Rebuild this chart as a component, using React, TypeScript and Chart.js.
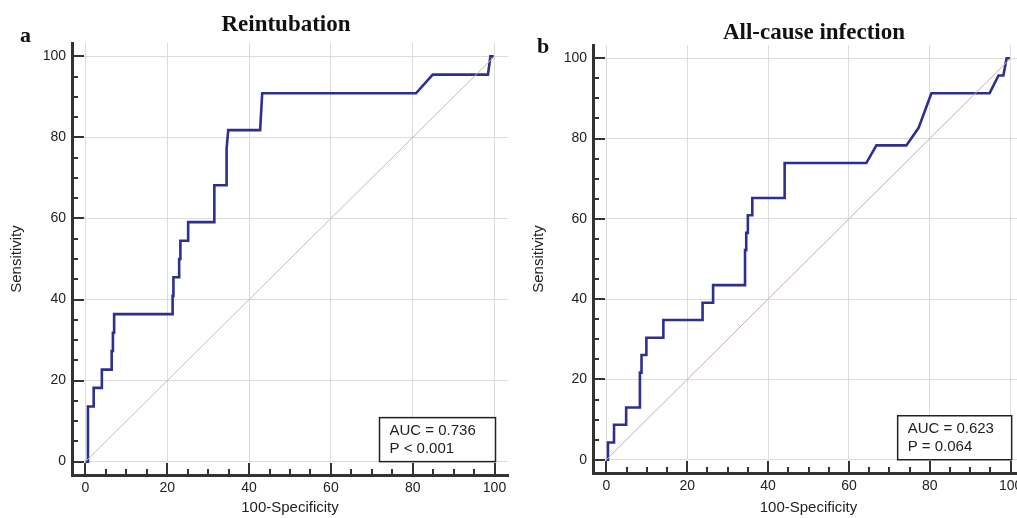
import React, { useEffect, useRef } from "react";
import { Chart, registerables } from "chart.js";

Chart.register(...registerables);

// ---- data ----
const tickValues = [0, 5, 10, 15, 20, 25, 30, 35, 40, 45, 50, 55, 60, 65, 70, 75, 80, 85, 90, 95, 100];
const majorTicks = [0, 20, 40, 60, 80, 100];

const reintFpr = [0, 0.6, 0.6, 2.0, 2.0, 4.0, 4.0, 6.4, 6.4, 6.7, 6.7, 7.0, 7.0, 21.3, 21.3, 21.5, 21.5, 22.9, 22.9, 23.2, 23.2, 25.1, 25.1, 31.5, 31.5, 34.5, 34.5, 34.9, 42.7, 43.2, 80.8, 84.9, 98.4, 99.0, 99.8];
const reintSens = [0, 0, 13.6, 13.6, 18.2, 18.2, 22.7, 22.7, 27.3, 27.3, 31.8, 31.8, 36.4, 36.4, 40.9, 40.9, 45.5, 45.5, 50.0, 50.0, 54.5, 54.5, 59.1, 59.1, 68.2, 68.2, 77.3, 81.8, 81.8, 90.9, 90.9, 95.5, 95.5, 100, 100];

const infFpr = [0, 0.4, 0.4, 1.9, 1.9, 4.9, 4.9, 8.3, 8.3, 8.7, 8.7, 9.9, 9.9, 14.1, 14.1, 23.8, 23.8, 26.4, 26.4, 34.3, 34.3, 34.6, 34.6, 35.0, 35.0, 36.1, 36.1, 44.1, 44.1, 64.3, 66.8, 74.2, 77.2, 80.4, 94.8, 97.0, 98.2, 99.0, 99.8];
const infSens = [0, 0, 4.3, 4.3, 8.7, 8.7, 13.0, 13.0, 21.7, 21.7, 26.1, 26.1, 30.4, 30.4, 34.8, 34.8, 39.1, 39.1, 43.5, 43.5, 52.2, 52.2, 56.5, 56.5, 60.9, 60.9, 65.2, 65.2, 73.9, 73.9, 78.3, 78.3, 82.6, 91.3, 91.3, 95.7, 95.7, 100, 100];

const chanceX = [0, 100];
const chanceY = [0, 100];

const panelTitles = ["Reintubation", "All-cause infection"];
const panelLetters = ["a", "b"];
const aucLines = [
  ["AUC = 0.736", "P < 0.001"],
  ["AUC = 0.623", "P = 0.064"],
];
const xTitle = "100-Specificity";
const yTitle = "Sensitivity";

const zip = (xs: number[], ys: number[]) => xs.map((x, i) => ({ x, y: ys[i] }));

const decorPlugin = {
  id: "decor",
  afterDraw(chart: any, _args: any, opts: any) {
    const { ctx, chartArea, scales } = chart;
    const xs = scales.x;
    const ys = scales.y;
    ctx.save();
    // inner tick marks
    ctx.strokeStyle = "#333";
    ctx.lineWidth = 2;
    tickValues.forEach((v) => {
      const len = majorTicks.includes(v) ? 12 : 6;
      const px = Math.round(xs.getPixelForValue(v));
      ctx.beginPath();
      ctx.moveTo(px, chartArea.bottom);
      ctx.lineTo(px, chartArea.bottom - len);
      ctx.stroke();
      const py = Math.round(ys.getPixelForValue(v));
      ctx.beginPath();
      ctx.moveTo(chartArea.left, py);
      ctx.lineTo(chartArea.left + len, py);
      ctx.stroke();
    });
    // AUC box
    const right = xs.getPixelForValue(100) + 1;
    const bottom = ys.getPixelForValue(0);
    const w = opts.boxW;
    const h = 44;
    ctx.fillStyle = "#fff";
    ctx.fillRect(right - w, bottom - h, w, h);
    ctx.strokeStyle = "#222";
    ctx.lineWidth = 1.5;
    ctx.strokeRect(right - w, bottom - h, w, h);
    ctx.fillStyle = "#222";
    ctx.font = "15px 'Liberation Sans', Arial, sans-serif";
    ctx.textBaseline = "middle";
    ctx.textAlign = "left";
    ctx.fillText(opts.auc[0], right - w + 10, bottom - h + 13.5);
    ctx.fillText(opts.auc[1], right - w + 10, bottom - h + 31);
    // panel title and letter
    ctx.fillStyle = "#111";
    ctx.textBaseline = "alphabetic";
    ctx.textAlign = "center";
    ctx.font = "bold 23px 'Liberation Serif', 'Times New Roman', serif";
    ctx.fillText(opts.title, opts.titleX, opts.titleY);
    ctx.textAlign = "left";
    ctx.font = "bold 22px 'Liberation Serif', 'Times New Roman', serif";
    ctx.fillText(opts.letter, opts.letterX, opts.letterY);
    ctx.restore();
  },
};

type PanelCfg = {
  idx: number;
  fpr: number[];
  sens: number[];
  diagColor: string;
  padLeft: number;
  padTop: number;
  padRight: number;
  yWidth: number;
  xHeight: number;
  yTitlePad: number;
  titleX: number;
  titleY: number;
  letterX: number;
  letterY: number;
  boxW: number;
};

function makeChart(canvas: HTMLCanvasElement, c: PanelCfg) {
  const tickFont = { family: "'Liberation Sans', Arial, sans-serif", size: 14 };
  const titleFont = { family: "'Liberation Sans', Arial, sans-serif", size: 15 };
  const gridColor = (ctx: any) =>
    ctx.tick && majorTicks.includes(ctx.tick.value) ? "#dcdcdc" : "rgba(0,0,0,0)";
  const setTicks = (scale: any) => {
    scale.ticks = tickValues.map((v) => ({ value: v }));
  };
  const label = (v: any) => (majorTicks.includes(Number(v)) ? String(v) : "");
  return new Chart(canvas, {
    type: "scatter",
    data: {
      datasets: [
        {
          data: zip(chanceX, chanceY),
          showLine: true,
          borderColor: c.diagColor,
          borderWidth: 1,
          pointRadius: 0,
        },
        {
          data: zip(c.fpr, c.sens),
          showLine: true,
          borderColor: "#2e2f8e",
          borderWidth: 2.6,
          pointRadius: 0,
          tension: 0,
        },
      ],
    },
    options: {
      animation: false,
      responsive: false,
      maintainAspectRatio: false,
      layout: { padding: { left: c.padLeft, top: c.padTop, right: c.padRight, bottom: 0 } },
      plugins: {
        legend: { display: false },
        tooltip: { enabled: false },
        title: { display: false },
        decor: {
          title: panelTitles[c.idx],
          letter: panelLetters[c.idx],
          auc: aucLines[c.idx],
          titleX: c.titleX,
          titleY: c.titleY,
          letterX: c.letterX,
          letterY: c.letterY,
          boxW: c.boxW,
        },
      } as any,
      scales: {
        x: {
          type: "linear",
          min: -3.3,
          max: 103.3,
          afterBuildTicks: setTicks,
          afterFit: (s: any) => {
            s.height = c.xHeight;
          },
          grid: { color: gridColor, drawTicks: false, lineWidth: 1 },
          border: { display: true, color: "#333", width: 3 },
          ticks: { callback: label, autoSkip: false, maxRotation: 0, padding: 5, color: "#222", font: tickFont },
          title: { display: true, text: xTitle, color: "#222", font: titleFont, padding: { top: 0, bottom: 1 } },
        },
        y: {
          type: "linear",
          min: -3.3,
          max: 103.3,
          afterBuildTicks: setTicks,
          afterFit: (s: any) => {
            s.width = c.yWidth;
          },
          grid: { color: gridColor, drawTicks: false, lineWidth: 1 },
          border: { display: true, color: "#333", width: 3 },
          ticks: { callback: label, autoSkip: false, padding: 6, color: "#222", font: tickFont },
          title: { display: true, text: yTitle, color: "#222", font: titleFont, padding: { top: c.yTitlePad, bottom: 0 } },
        },
      },
    },
    plugins: [decorPlugin],
  } as any);
}

function Panel({ cfg, left, width }: { cfg: PanelCfg; left: number; width: number }) {
  const ref = useRef<HTMLCanvasElement>(null);
  useEffect(() => {
    if (!ref.current) return;
    const ch = makeChart(ref.current, cfg);
    return () => ch.destroy();
  }, []);
  return (
    <canvas
      ref={ref}
      width={width}
      height={518}
      style={{ position: "absolute", left, top: 0, width, height: 518 }}
    />
  );
}

const panelA: PanelCfg = {
  idx: 0,
  fpr: reintFpr,
  sens: reintSens,
  diagColor: "#bdbdbd",
  padLeft: 0,
  padTop: 43,
  padRight: 4,
  yWidth: 72,
  xHeight: 43,
  yTitlePad: 8,
  titleX: 286,
  titleY: 31,
  letterX: 20,
  letterY: 42,
  boxW: 116,
};

const panelB: PanelCfg = {
  idx: 1,
  fpr: infFpr,
  sens: infSens,
  diagColor: "#c8aab6",
  padLeft: 20,
  padTop: 45,
  padRight: 26,
  yWidth: 63,
  xHeight: 45,
  yTitlePad: 0,
  titleX: 304,
  titleY: 39,
  letterX: 27,
  letterY: 53,
  boxW: 114,
};

export default function App() {
  return (
    <div
      style={{
        position: "fixed",
        left: 0,
        top: 0,
        width: 1017,
        height: 518,
        overflow: "hidden",
        background: "#fff",
      }}
    >
      <Panel cfg={panelA} left={0} width={512} />
      <Panel cfg={panelB} left={510} width={540} />
    </div>
  );
}
